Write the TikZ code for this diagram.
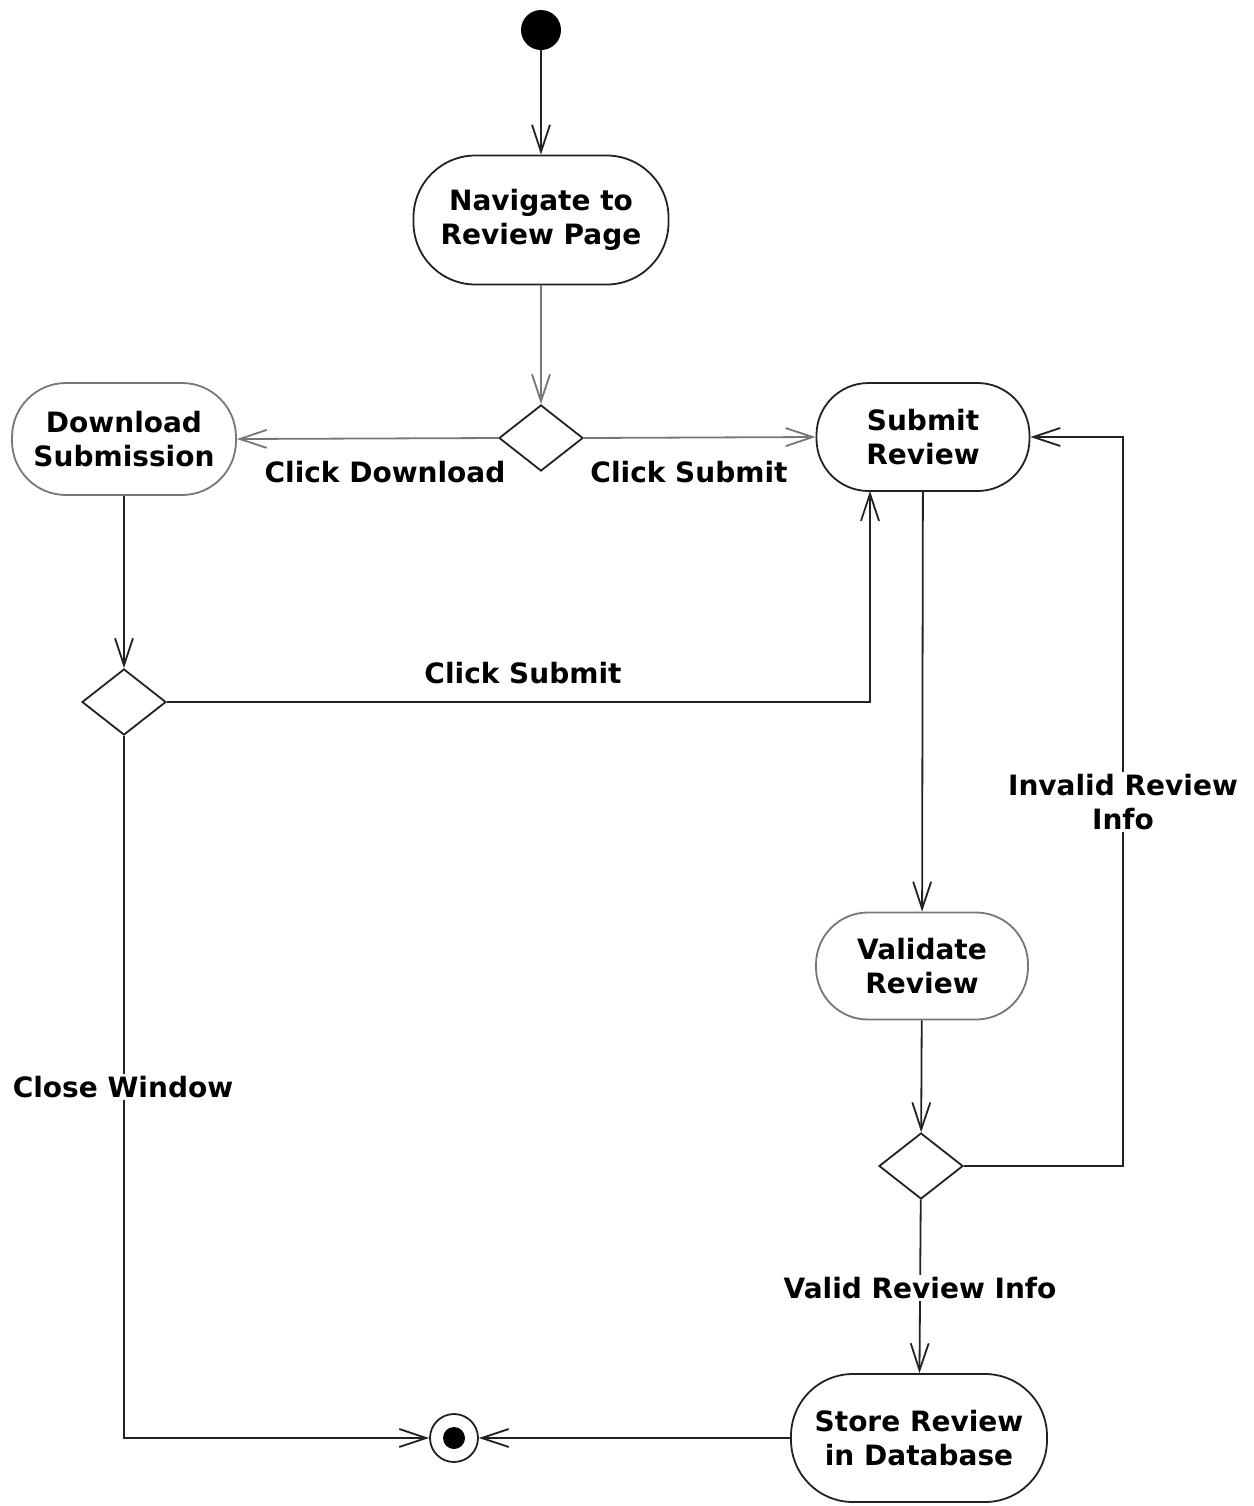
\documentclass[tikz,border=0pt]{standalone}
\usepackage{fontspec}
\setmainfont{DejaVu Sans}
\usetikzlibrary{arrows.meta,shapes.geometric}
\definecolor{ln}{HTML}{222222}
\definecolor{gl}{HTML}{777777}
\begin{document}
\begin{tikzpicture}[x=0.5pt,y=-0.5pt,
  lbl/.style={font=\bfseries\fontsize{14}{17}\selectfont, text=black, align=center, inner sep=1pt},
  act/.style={draw=ln, line width=0.9pt, fill=white, align=center, inner sep=0pt, font=\bfseries\fontsize{14}{17}\selectfont},
  dec/.style={draw=ln, line width=0.9pt, diamond, aspect=1.27, minimum width=42pt, minimum height=33pt, inner sep=0pt},
  flow/.style={draw=ln, line width=0.9pt, -{Straight Barb[length=13.5pt,width=9pt,line width=0.9pt]}},
  gflow/.style={flow, draw=gl},
]
\useasboundingbox (0,0) rectangle (1254,1506);
\fill[white] (0,0) rectangle (1254,1506);

\node[circle, fill=black, minimum size=20pt, inner sep=0pt] (start) at (541,30) {};
\node[act, minimum width=127.5pt, minimum height=64.5pt, rounded corners=31pt] (nav) at (541,220) {Navigate to\\Review Page};
\node[dec] (d1) at (541,438) {};
\node[act, draw=gl, minimum width=112pt, minimum height=56pt, rounded corners=27pt] (dl) at (124,439) {Download\\Submission};
\node[act, minimum width=106.5pt, minimum height=54pt, rounded corners=26pt] (sub) at (923,437) {Submit\\Review};
\node[dec] (d2) at (124,702) {};
\node[act, draw=gl, minimum width=106pt, minimum height=53.5pt, rounded corners=26pt] (val) at (922,966) {Validate\\Review};
\node[dec] (d3) at (921,1166) {};
\node[act, minimum width=128pt, minimum height=64pt, rounded corners=31pt] (store) at (919,1438) {Store Review\\in Database};
\node[circle, draw=ln, line width=0.9pt, minimum size=24pt, inner sep=0pt] (end) at (454,1438) {};
\node[circle, fill=black, minimum size=11pt, inner sep=0pt] (endin) at (454,1438) {};

\coordinate (rr) at (1123,1166);
\coordinate (subin) at (870,491);

\draw[flow] (start) -- (nav);
\draw[gflow] (nav) -- (d1);
\draw[gflow] (d1.west) -- (dl.east);
\draw[gflow] (d1.east) -- (sub.west);
\draw[flow] (dl) -- (d2);
\draw[flow] (d2.east) -| (subin);
\draw[flow] (sub) -- (val);
\draw[flow] (val) -- (d3);
\draw[flow] (d3.east) -- (rr) |- (sub.east);
\draw[flow] (d3) -- (store);
\draw[flow] (d2.south) |- (end.west);
\draw[flow] (store.west) -- (end.east);

\node[lbl] (l1) at (385,472) {Click Download};
\node[lbl] (l2) at (689,472) {Click Submit};
\node[lbl] (l3) at (523,673) {Click Submit};
\node[lbl, fill=white] (l4) at (1123,802) {Invalid Review\\Info};
\node[lbl, fill=white] (l5) at (920,1288) {Valid Review Info};
\node[lbl, fill=white] (l6) at (123,1087) {Close Window};
\end{tikzpicture}
\end{document}
